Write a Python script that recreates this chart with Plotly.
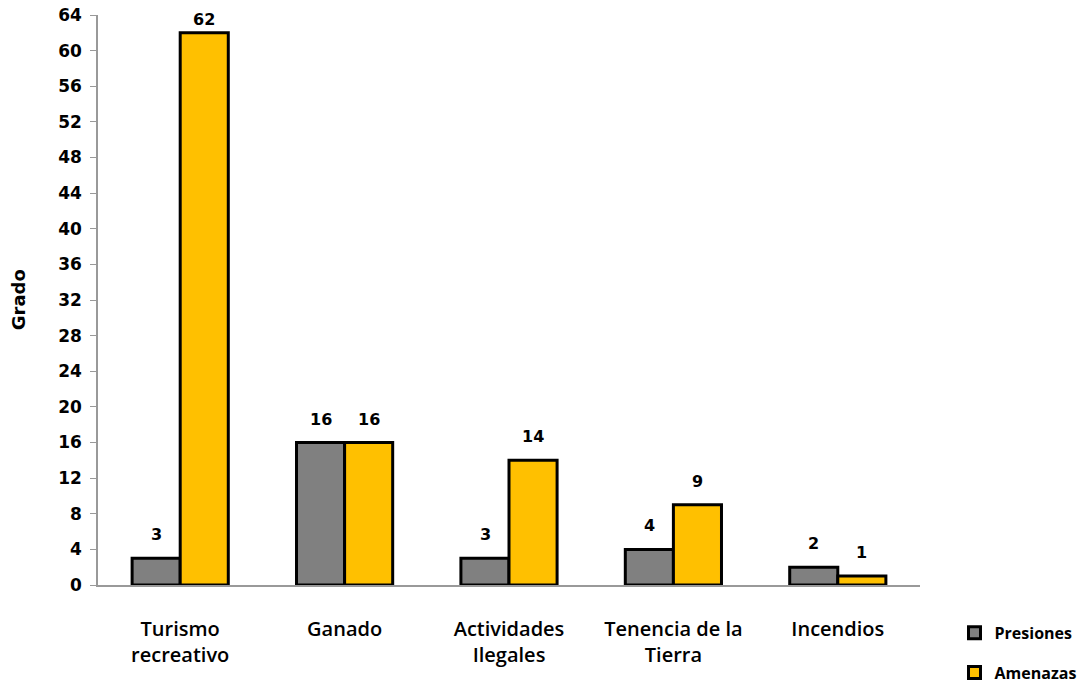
import plotly.graph_objects as go

categories = ["Turismo<br>recreativo", "Ganado", "Actividades<br>Ilegales", "Tenencia de la<br>Tierra", "Incendios"]
presiones = [3, 16, 3, 4, 2]
amenazas = [62, 16, 14, 9, 1]
y_ticks = list(range(0, 65, 4))

label_font = dict(family="DejaVu Sans", size=16, color="black", weight="bold")

fig = go.Figure()
fig.add_trace(go.Bar(
    name="Presiones", x=categories, y=presiones,
    marker=dict(color="#808080", line=dict(color="black", width=3)),
    legendgroup="p",
))
fig.add_trace(go.Bar(
    name="Amenazas", x=categories, y=amenazas,
    marker=dict(color="#FFC000", line=dict(color="black", width=3)),
    legendgroup="a",
))

annotations = []
for series, shift in ((presiones, -24), (amenazas, 24)):
    for cat, v in zip(categories, series):
        annotations.append(dict(
            x=cat, y=v, xref="x", yref="y", text=str(v), showarrow=False,
            xshift=shift, yshift=12 if v < 60 else 2, yanchor="bottom", font=label_font,
        ))
annotations.append(dict(
    x=-0.097, y=0.5, xref="paper", yref="paper", text="Grado", showarrow=False,
    xanchor="center", yanchor="middle",
    textangle=-90, font=dict(family="DejaVu Sans", size=18, color="black", weight="bold"),
))

fig.update_layout(
    width=1085, height=684,
    margin=dict(l=98, r=165, t=15, b=99, autoexpand=False),
    plot_bgcolor="white", paper_bgcolor="white",
    barmode="group", bargap=0.415, bargroupgap=0,
    font=dict(family="DejaVu Sans", color="black"),
    showlegend=True,
    annotations=annotations,
    legend=dict(
        x=1.042, xanchor="left", y=-0.184, yanchor="bottom",
        font=dict(family="Open Sans", size=16, color="black", weight="bold"),
        tracegroupgap=16, bgcolor="rgba(0,0,0,0)",
    ),
    xaxis=dict(
        showline=True, linecolor="#999999", linewidth=1.5, automargin=False,
        tickfont=dict(family="Open Sans", size=20, color="black", weight=600),
        ticks="", showgrid=False, ticklabelstandoff=25,
    ),
    yaxis=dict(
        range=[0, 64], tickvals=y_ticks, automargin=False,
        showline=True, linecolor="#999999", linewidth=1.5,
        ticks="outside", ticklen=6, tickcolor="#999999",
        tickfont=dict(family="DejaVu Sans", size=17, color="black", weight="bold"),
        showgrid=False, zeroline=False, ticklabelstandoff=5,
    ),
)

fig.write_html("out.html")
